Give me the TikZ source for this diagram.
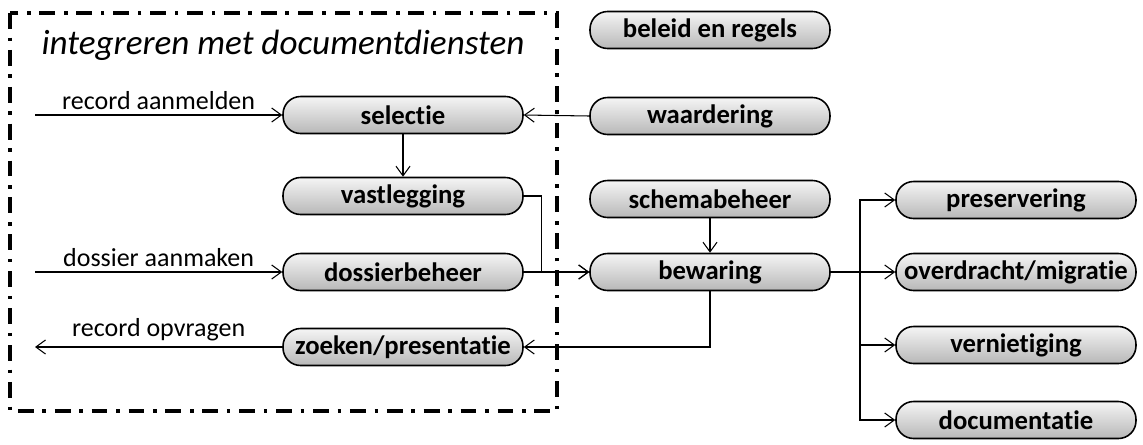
\documentclass[tikz,border=0pt]{standalone}
\usepackage{fontspec}
\setmainfont{Carlito}[Ligatures={NoCommon,NoDiscretionary,NoHistoric}]
\usetikzlibrary{arrows.meta}

\tikzset{
  task/.style={draw, line width=0.9pt, rounded corners=10pt, inner sep=0pt,
    minimum width=4.8cm, minimum height=0.74cm,
    top color=black!4, bottom color=black!28,
    font=\fontsize{15.2}{17}\selectfont\bfseries},
  flow/.style={semithick, -{Straight Barb[length=5.5pt,width=8pt]}},
  lbl/.style={font=\fontsize{14.8}{16}\selectfont, inner sep=3pt},
  grens/.style={line width=2.1pt, dash pattern=on 9pt off 5pt on 2pt off 5pt}
}

\begin{document}
\begin{tikzpicture}[x=0.02cm,y=-0.02cm]
\useasboundingbox (0,0) rectangle (1143,444);
% kader documentdiensten
\draw[grens] (10,13) rectangle (557,411);
\node[font=\fontsize{20}{23}\selectfont\itshape] (titel) at (283,45) {integreren met documentdiensten};

% taken
\node[task] (beleid) at (710,30) {beleid en regels};
\node[task] (selectie) at (403,115) {selectie};
\node[task] (waardering) at (710,116) {waardering};
\node[task] (vastlegging) at (403,196) {vastlegging};
\node[task] (schemabeheer) at (710,199) {schemabeheer};
\node[task] (dossierbeheer) at (403,272) {dossierbeheer};
\node[task] (bewaring) at (710,272) {bewaring};
\node[task] (zoeken) at (403,347) {zoeken/presentatie};
\node[task] (preservering) at (1016,200) {preservering};
\node[task] (overdracht) at (1016,272) {overdracht/migratie};
\node[task] (vernietiging) at (1016,345) {vernietiging};
\node[task] (documentatie) at (1016,420) {documentatie};

% in- en uitgangen
\coordinate (in1) at (35,115);
\coordinate (in2) at (35,272);
\coordinate (uit) at (35,347);
\coordinate (bus) at (860,272);
\draw[flow] (in1) -- node[lbl, above] {record aanmelden} (selectie.west);
\draw[flow] (in2) -- node[lbl, above] {dossier aanmaken} (dossierbeheer.west);
\draw[flow] (zoeken.west) -- node[lbl, above] {record opvragen} (uit);

% stromen
\draw[flow] (waardering.west) -- (selectie.east);
\draw[flow] (selectie.south) -- (vastlegging.north);
\draw[flow] (vastlegging.east) -- ++(18,0) |- (bewaring.west);
\draw[flow] (dossierbeheer.east) -- (bewaring.west);
\draw[flow] (schemabeheer.south) -- (bewaring.north);
\draw[flow] (bewaring.south) |- (zoeken.east);
\draw[flow] (bewaring.east) -- (overdracht.west);
\foreach \n in {preservering,vernietiging,documentatie}
  \draw[flow] (bus) |- (\n.west);
\end{tikzpicture}
\end{document}
